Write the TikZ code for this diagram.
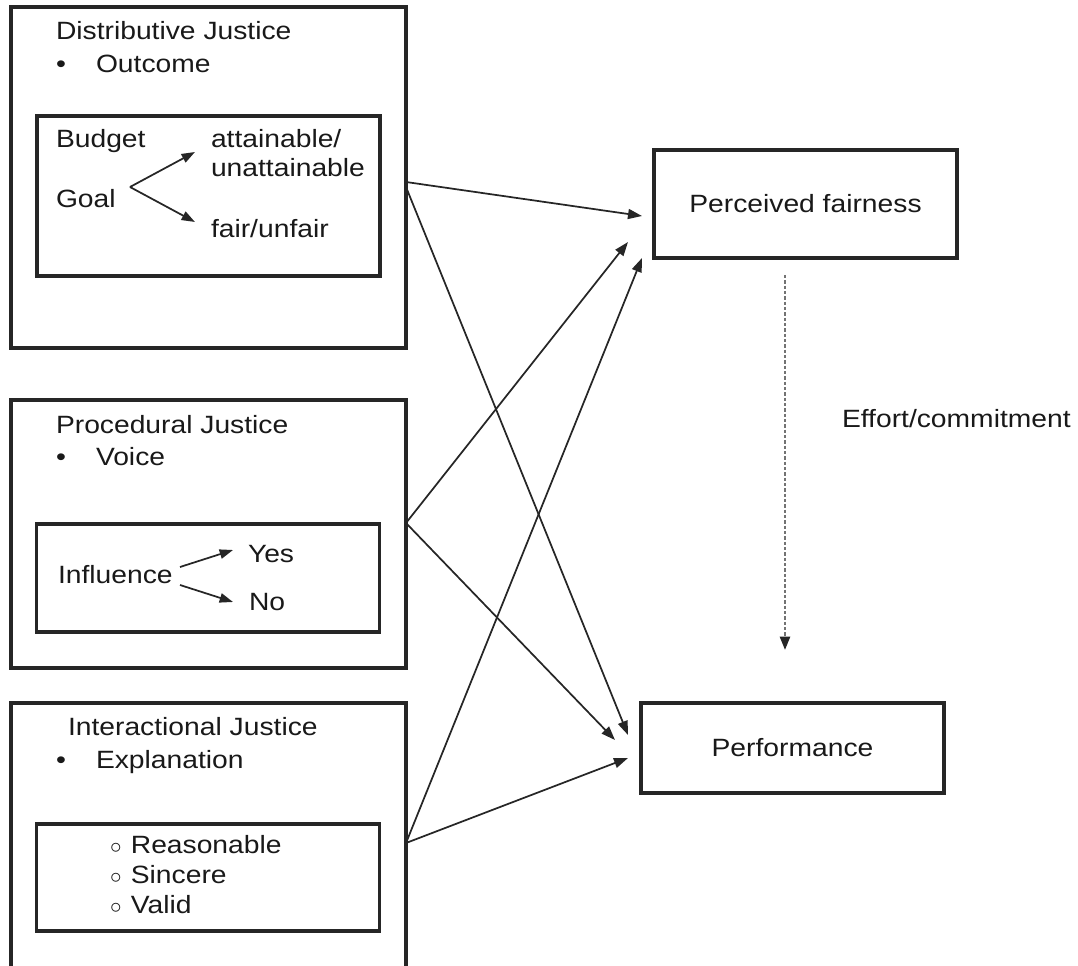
\documentclass[tikz,border=0pt]{standalone}
\usepackage{fontspec}
\setmainfont{Liberation Sans}[FakeStretch=1.13]
\usetikzlibrary{arrows.meta}
\begin{document}
\begin{tikzpicture}[x=0.75pt,y=-0.75pt,
  every node/.style={inner sep=0pt, outer sep=0pt, font=\fontsize{18.75}{22}\selectfont, text=black!90},
  bigbox/.style={draw=black!85, line width=2.6pt, minimum width=296.25pt},
  innerbox/.style={draw=black!85, line width=2.6pt, minimum width=257pt},
  rbox/.style={draw=black!85, line width=2.6pt, minimum width=227.25pt},
  lbl/.style={anchor=base west},
  conn/.style={draw=black!85, line width=1.3pt, -{Triangle[length=10.5pt,width=7.5pt]}},
  sconn/.style={draw=black!85, line width=1.3pt, -{Triangle[length=10pt,width=7pt]}},
  dconn/.style={draw=black!55, line width=1.8pt, dash pattern=on 2.6pt off 1.4pt, -{Triangle[length=10pt,width=7.5pt,color=black!85]}}
]
\useasboundingbox (0,0) rectangle (1078,966);
\begin{scope}
\clip (0,0) rectangle (1078,966);
% left boxes
\node[bigbox, minimum height=255.75pt] (d1) at (208.5,177.5) {};
\node[innerbox, minimum height=120pt] (d1i) at (208.5,196) {};
\node[bigbox, minimum height=201pt] (d2) at (208.5,534) {};
\node[innerbox, minimum height=81pt] (d2i) at (208,578) {};
\node[bigbox, minimum height=207.75pt] (d3) at (208.5,841.5) {};
\node[innerbox, minimum height=80.25pt] (d3i) at (208,877.5) {};
\end{scope}
% right boxes
\node[rbox, minimum height=81pt] (pf) at (805.5,204) {Perceived fairness};
\node[rbox, minimum height=67.5pt] (perf) at (792.5,748) {Performance};

% texts box 1
\node[lbl] (t1) at (56,40) {Distributive Justice};
\node[lbl] (b1) at (56,73) {•};
\node[lbl] (t1b) at (96,73) {Outcome};
\node[lbl] (budget) at (56,148) {Budget};
\node[lbl] (goal) at (56,208) {Goal};
\node[lbl] (att) at (211,148) {attainable/};
\node[lbl] (unatt) at (211,177) {unattainable};
\node[lbl] (fair) at (211,238) {fair/unfair};
% texts box 2
\node[lbl] (t2) at (56,433) {Procedural Justice};
\node[lbl] (b2) at (56,465) {•};
\node[lbl] (t2b) at (96,465) {Voice};
\node[lbl] (infl) at (58,583) {Influence};
\node[lbl] (yes) at (248,562) {Yes};
\node[lbl] (no) at (249,610) {No};
% texts box 3
\node[lbl] (t3) at (68,735) {Interactional Justice};
\node[lbl] (b3) at (56,768) {•};
\node[lbl] (t3b) at (96,768) {Explanation};
\node[lbl] (r1) at (110,853) {$\circ$\hspace{7pt}Reasonable};
\node[lbl] (r2) at (110,883) {$\circ$\hspace{7pt}Sincere};
\node[lbl] (r3) at (110,913) {$\circ$\hspace{7pt}Valid};

\node[lbl] (eff) at (842,427) {Effort/commitment};

% small arrows
\coordinate (g0) at (130,187);
\coordinate (g1) at (195,152);
\coordinate (g2) at (195,222);
\draw[sconn] (g0) -- (g1);
\draw[sconn] (g0) -- (g2);
\coordinate (i1) at (180,567);
\coordinate (i2) at (180,585);
\coordinate (y1) at (233,550);
\coordinate (n1) at (233,602);
\draw[sconn] (i1) -- (y1);
\draw[sconn] (i2) -- (n1);

% main connectors
\coordinate (s1a) at (406,182);
\coordinate (s1b) at (406,187);
\coordinate (s2) at (406,523);
\coordinate (s3) at (406,843);
\coordinate (pf1) at (642,216);
\coordinate (pf2) at (628,242);
\coordinate (pf3) at (642,258);
\coordinate (pe1) at (628,735);
\coordinate (pe2) at (615,740);
\coordinate (pe3) at (628,758);
\draw[conn] (s1a) -- (pf1);
\draw[conn] (s1b) -- (pe1);
\draw[conn] (s2) -- (pf2);
\draw[conn] (s2) -- (pe2);
\draw[conn] (s3) -- (pf3);
\draw[conn] (s3) -- (pe3);

\coordinate (ds) at (785,275);
\coordinate (de) at (785,650);
\draw[dconn] (ds) -- (de);
\end{tikzpicture}
\end{document}
